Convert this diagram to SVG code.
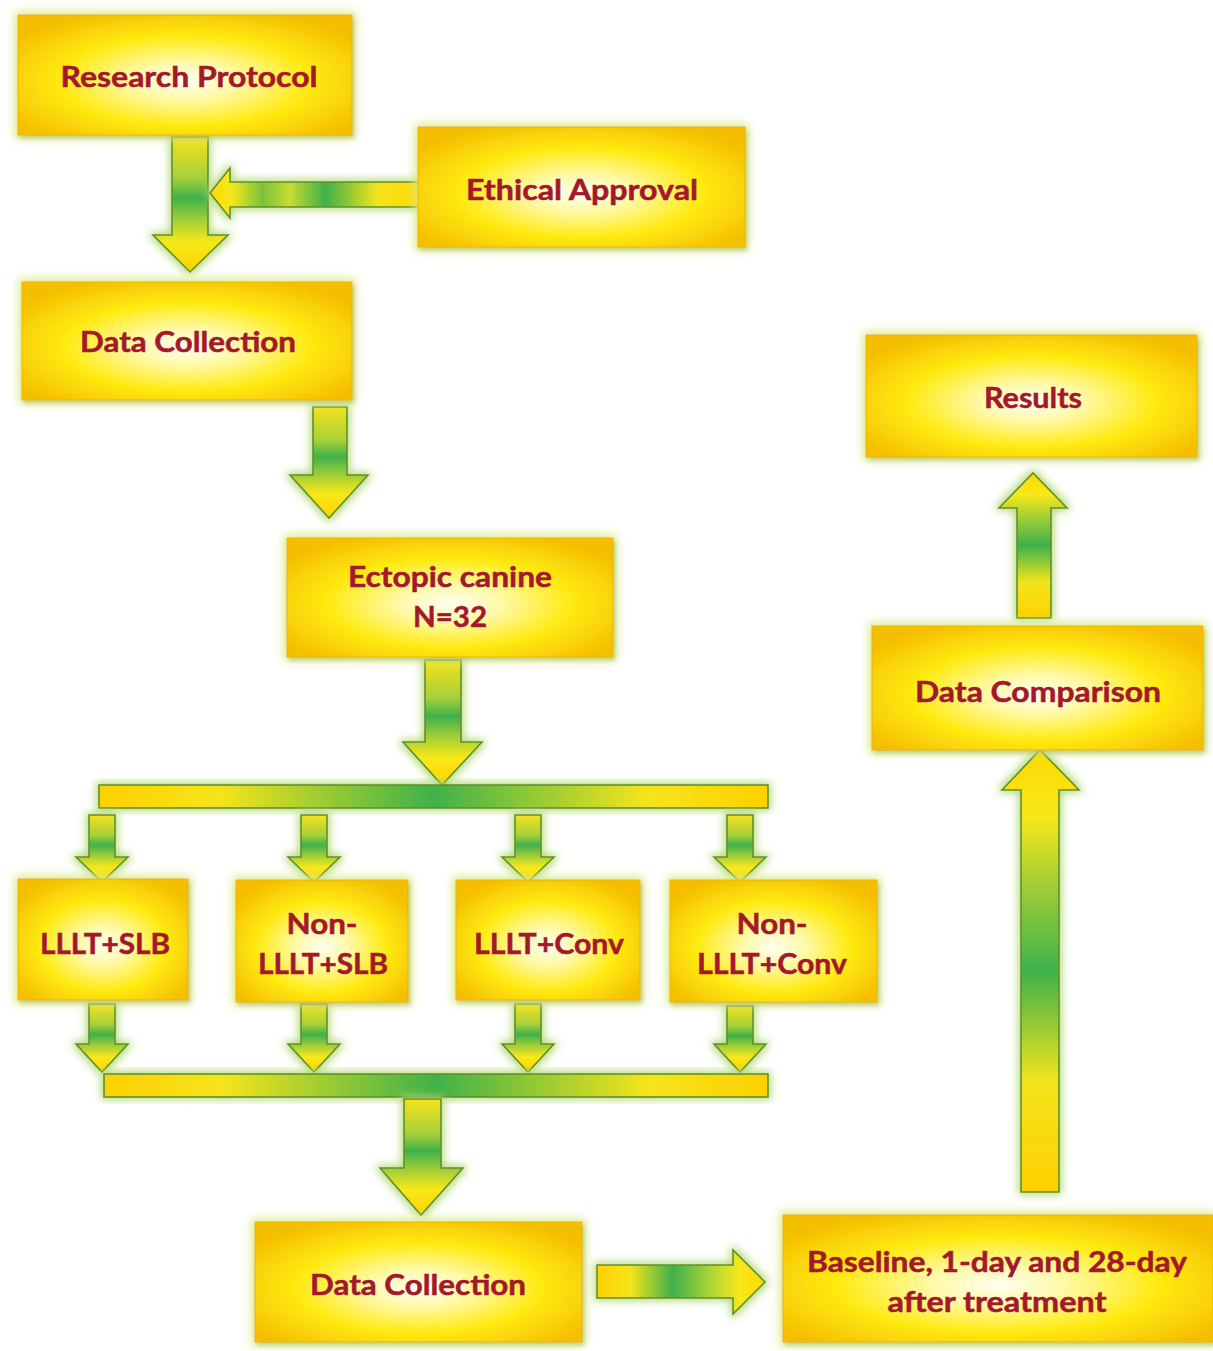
<svg xmlns="http://www.w3.org/2000/svg" width="1213" height="1351" viewBox="0 0 1213 1351">
<defs>
<style>
.box{fill:url(#boxFill);stroke:#e8b800;stroke-width:1;filter:url(#glowBox)}
.arr{stroke:#5f8f2a;stroke-width:1.6;stroke-linejoin:miter;filter:url(#glowArr)}
.t{font-family:Lato,"Open Sans","Liberation Sans",sans-serif;font-weight:700;font-size:28px;fill:#a3182b;stroke:#a3182b;stroke-width:0.5;text-anchor:middle}
</style>
<radialGradient id="boxFill" cx="0.5" cy="0.55" r="0.62">
<stop offset="0" stop-color="#fffef0"/>
<stop offset="0.25" stop-color="#fff9a8"/>
<stop offset="0.6" stop-color="#ffea12"/>
<stop offset="1" stop-color="#f5be00"/>
</radialGradient>
<linearGradient id="gDown" x1="0" y1="0" x2="0" y2="1">
<stop offset="0" stop-color="#f4e21c"/>
<stop offset="0.3" stop-color="#a8d03a"/>
<stop offset="0.45" stop-color="#3fb14a"/>
<stop offset="0.62" stop-color="#a6cf36"/>
<stop offset="0.78" stop-color="#f7e81a"/>
<stop offset="1" stop-color="#ffd200"/>
</linearGradient>
<linearGradient id="gUp" x1="0" y1="1" x2="0" y2="0">
<stop offset="0" stop-color="#ffd000"/>
<stop offset="0.25" stop-color="#f2e41c"/>
<stop offset="0.5" stop-color="#3fb14a"/>
<stop offset="0.7" stop-color="#a6cf36"/>
<stop offset="0.85" stop-color="#f7e81a"/>
<stop offset="1" stop-color="#ffd800"/>
</linearGradient>
<linearGradient id="gLeft" x1="1" y1="0" x2="0" y2="0">
<stop offset="0" stop-color="#ffd800"/>
<stop offset="0.2" stop-color="#f5e41c"/>
<stop offset="0.45" stop-color="#3fb14a"/>
<stop offset="0.62" stop-color="#c8dc30"/>
<stop offset="0.75" stop-color="#7cc23c"/>
<stop offset="0.9" stop-color="#f7e81a"/>
<stop offset="1" stop-color="#ffd800"/>
</linearGradient>
<linearGradient id="gRight" x1="0" y1="0" x2="1" y2="0">
<stop offset="0" stop-color="#ffd000"/>
<stop offset="0.2" stop-color="#f5e41c"/>
<stop offset="0.45" stop-color="#3fb14a"/>
<stop offset="0.7" stop-color="#b8d834"/>
<stop offset="0.85" stop-color="#f7e81a"/>
<stop offset="1" stop-color="#ffd800"/>
</linearGradient>
<linearGradient id="gBar" x1="0" y1="0" x2="1" y2="0">
<stop offset="0" stop-color="#ffd000"/>
<stop offset="0.18" stop-color="#f5e41c"/>
<stop offset="0.5" stop-color="#3fb14a"/>
<stop offset="0.82" stop-color="#f5e41c"/>
<stop offset="1" stop-color="#ffd000"/>
</linearGradient>
<filter id="glowBox" x="-15%" y="-25%" width="130%" height="150%">
<feMorphology in="SourceAlpha" operator="dilate" radius="3" result="d"/>
<feGaussianBlur in="d" stdDeviation="5" result="b"/>
<feFlood flood-color="#d9eb8a" flood-opacity="0.95"/>
<feComposite in2="b" operator="in" result="g"/>
<feOffset in="SourceAlpha" dx="2" dy="3" result="o"/>
<feGaussianBlur in="o" stdDeviation="2" result="ob"/>
<feFlood flood-color="#9a9a30" flood-opacity="0.45"/>
<feComposite in2="ob" operator="in" result="sh"/>
<feMerge><feMergeNode in="g"/><feMergeNode in="sh"/><feMergeNode in="SourceGraphic"/></feMerge>
</filter>
<filter id="glowArr" x="-50%" y="-30%" width="200%" height="160%">
<feMorphology in="SourceAlpha" operator="dilate" radius="2" result="d"/>
<feGaussianBlur in="d" stdDeviation="4" result="b"/>
<feFlood flood-color="#b0d870" flood-opacity="0.95"/>
<feComposite in2="b" operator="in" result="g"/>
<feMerge><feMergeNode in="g"/><feMergeNode in="SourceGraphic"/></feMerge>
</filter>
</defs>
<rect width="1213" height="1351" fill="#ffffff"/>

<g id="connectors">
<path class="arr" fill="url(#gDown)" d="M172,137 H208 V235 H228 L190,272 L153,235 H172 Z"/>
<path class="arr" fill="url(#gLeft)" d="M420,182 V207 H230 V218 L210,193 L230,168 V182 Z"/>
<path class="arr" fill="url(#gDown)" d="M313,407 H347 V475 H368 L329,518 L290,475 H313 Z"/>
<path class="arr" fill="url(#gDown)" d="M425,660 H461 V742 H482 L442,785 L403,742 H425 Z"/>
<rect class="arr" fill="url(#gBar)" x="99" y="785" width="669" height="23"/>
<path class="arr" fill="url(#gDown)" d="M89,815 H115 V857 H128 L102,882 L76,857 H89 Z"/>
<path class="arr" fill="url(#gDown)" d="M301,815 H327 V857 H340 L314,882 L288,857 H301 Z"/>
<path class="arr" fill="url(#gDown)" d="M515,815 H541 V857 H554 L528,882 L502,857 H515 Z"/>
<path class="arr" fill="url(#gDown)" d="M727,815 H753 V857 H766 L740,882 L714,857 H727 Z"/>
<path class="arr" fill="url(#gDown)" d="M89,1004 H115 V1044 H128 L102,1072 L76,1044 H89 Z"/>
<path class="arr" fill="url(#gDown)" d="M301,1004 H327 V1044 H340 L314,1072 L288,1044 H301 Z"/>
<path class="arr" fill="url(#gDown)" d="M515,1004 H541 V1044 H554 L528,1072 L502,1044 H515 Z"/>
<path class="arr" fill="url(#gDown)" d="M727,1006 H753 V1044 H766 L740,1072 L714,1044 H727 Z"/>
<rect class="arr" fill="url(#gBar)" x="104" y="1074" width="664" height="23"/>
<path class="arr" fill="url(#gDown)" d="M404,1099 H441 V1168 H463 L421,1215 L380,1168 H404 Z"/>
<path class="arr" fill="url(#gRight)" d="M597,1265 H733 V1250 L765,1282 L733,1314 V1298 H597 Z"/>
<path class="arr" fill="url(#gUp)" d="M1021,1192 V790 H1002 L1040,750 L1079,790 H1059 V1192 Z"/>
<path class="arr" fill="url(#gUp)" d="M1017,618 V508 H999 L1033,473 L1067,508 H1051 V618 Z"/>
</g>

<g id="research-protocol"><rect class="box" x="18" y="15" width="334" height="120"/><text class="t" x="189" y="87" textLength="257" lengthAdjust="spacingAndGlyphs">Research Protocol</text></g>
<g id="ethical-approval"><rect class="box" x="418" y="127" width="327" height="120"/><text class="t" x="582" y="200" textLength="232" lengthAdjust="spacingAndGlyphs">Ethical Approval</text></g>
<g id="data-collection-1"><rect class="box" x="22" y="282" width="330" height="118"/><text class="t" x="188" y="352" textLength="216" lengthAdjust="spacingAndGlyphs">Data Collection</text></g>
<g id="ectopic-canine"><rect class="box" x="287" y="538" width="326" height="119"/><text class="t" x="450" y="587" textLength="204" lengthAdjust="spacingAndGlyphs">Ectopic canine</text><text class="t" x="450" y="627" textLength="74" lengthAdjust="spacingAndGlyphs">N=32</text></g>
<g id="lllt-slb"><rect class="box" x="18" y="879" width="170" height="121"/><text class="t" x="105" y="954" textLength="130" lengthAdjust="spacingAndGlyphs">LLLT+SLB</text></g>
<g id="non-lllt-slb"><rect class="box" x="236" y="880" width="172" height="122"/><text class="t" x="322" y="934" textLength="71" lengthAdjust="spacingAndGlyphs">Non-</text><text class="t" x="323" y="974" textLength="130" lengthAdjust="spacingAndGlyphs">LLLT+SLB</text></g>
<g id="lllt-conv"><rect class="box" x="456" y="880" width="184" height="120"/><text class="t" x="549" y="954" textLength="150" lengthAdjust="spacingAndGlyphs">LLLT+Conv</text></g>
<g id="non-lllt-conv"><rect class="box" x="670" y="880" width="207" height="122"/><text class="t" x="772" y="934" textLength="71" lengthAdjust="spacingAndGlyphs">Non-</text><text class="t" x="772" y="974" textLength="150" lengthAdjust="spacingAndGlyphs">LLLT+Conv</text></g>
<g id="data-collection-2"><rect class="box" x="255" y="1222" width="327" height="120"/><text class="t" x="418" y="1295" textLength="216" lengthAdjust="spacingAndGlyphs">Data Collection</text></g>
<g id="baseline"><rect class="box" x="783" y="1215" width="430" height="127"/><text class="t" x="997" y="1272" textLength="380" lengthAdjust="spacingAndGlyphs">Baseline, 1-day and 28-day</text><text class="t" x="997" y="1312" textLength="219" lengthAdjust="spacingAndGlyphs">after treatment</text></g>
<g id="data-comparison"><rect class="box" x="872" y="626" width="331" height="124"/><text class="t" x="1038" y="702" textLength="246" lengthAdjust="spacingAndGlyphs">Data Comparison</text></g>
<g id="results"><rect class="box" x="866" y="335" width="331" height="122"/><text class="t" x="1033" y="408" textLength="98" lengthAdjust="spacingAndGlyphs">Results</text></g>
</svg>
